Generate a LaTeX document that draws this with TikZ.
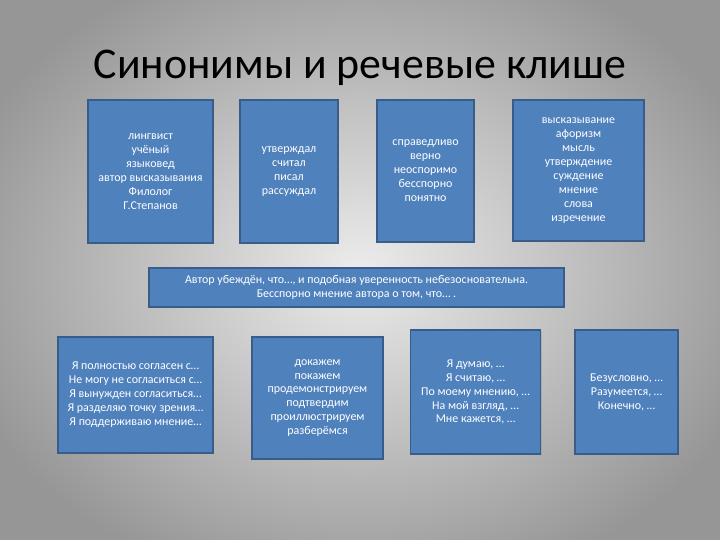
\documentclass[tikz,border=0pt]{standalone}
\usepackage{fontspec}
\setmainfont{Carlito}
\usetikzlibrary{positioning, shadows}

\definecolor{boxblue}{RGB}{79,129,189}
\definecolor{boxedge}{RGB}{56,93,138}
\definecolor{bgin}{RGB}{236,236,236}
\definecolor{bgout}{RGB}{150,150,150}

\begin{document}
\begin{tikzpicture}[x=1bp, y=-1bp,
      box/.style={draw=boxedge, line width=1.1pt, fill=boxblue, text=white,
                  font=\fontsize{12}{14}\selectfont, align=center, inner sep=2pt,
                  drop shadow={opacity=0.25, shadow xshift=1pt, shadow yshift=-1.5pt}},
      ttl/.style={font=\fontsize{44}{50}\selectfont, text=black}]

    % background: light in the middle, grey at the edges
    \useasboundingbox (0,0) rectangle (720,540);
    \shade[inner color=bgin, outer color=bgout] (-60,-60) rectangle (780,600);

    \node[ttl] (title) at (360,68) {Синонимы и речевые клише};

    % top row: synonyms
    \node[box, minimum width=125bp, minimum height=143bp] (who) at (150.5,171.5)
        {лингвист\\учёный\\языковед\\автор высказывания\\Филолог\\Г.Степанов};
    \node[box, minimum width=98bp, minimum height=143bp] (said) at (289,171.5)
        {утверждал\\считал\\писал\\рассуждал};
    \node[box, minimum width=97bp, minimum height=142bp] (right) at (425.5,171)
        {справедливо\\верно\\неоспоримо\\бесспорно\\понятно};
    \node[box, minimum width=131bp, minimum height=141bp] (thought) at (578.5,170.5)
        {высказывание\\афоризм\\мысль\\утверждение\\суждение\\мнение\\слова\\изречение};

    % middle strip
    \node[box, minimum width=415bp, minimum height=39bp] (strip) at (356.5,287.5)
        {Автор убеждён, что…, и подобная уверенность небезосновательна.\\
         Бесспорно мнение автора о том, что… .};

    % bottom row: speech cliches
    \node[box, minimum width=155bp, minimum height=116bp] (agree) at (135.5,395)
        {Я полностью согласен с…\\Не могу не согласиться с…\\Я вынужден согласиться…\\
         Я разделяю точку зрения…\\Я поддерживаю мнение…};
    \node[box, minimum width=131bp, minimum height=122bp] (prove) at (317.5,398)
        {докажем\\покажем\\продемонстрируем\\подтвердим\\проиллюстрируем\\разберёмся};
    \node[box, minimum width=130bp, minimum height=124bp] (think) at (475.5,392)
        {Я думаю, …\\Я считаю, …\\По моему мнению, …\\На мой взгляд, …\\Мне кажется, …};
    \node[box, minimum width=103bp, minimum height=124bp] (sure) at (626.5,392)
        {Безусловно, …\\Разумеется, …\\Конечно, …};

\end{tikzpicture}
\end{document}
